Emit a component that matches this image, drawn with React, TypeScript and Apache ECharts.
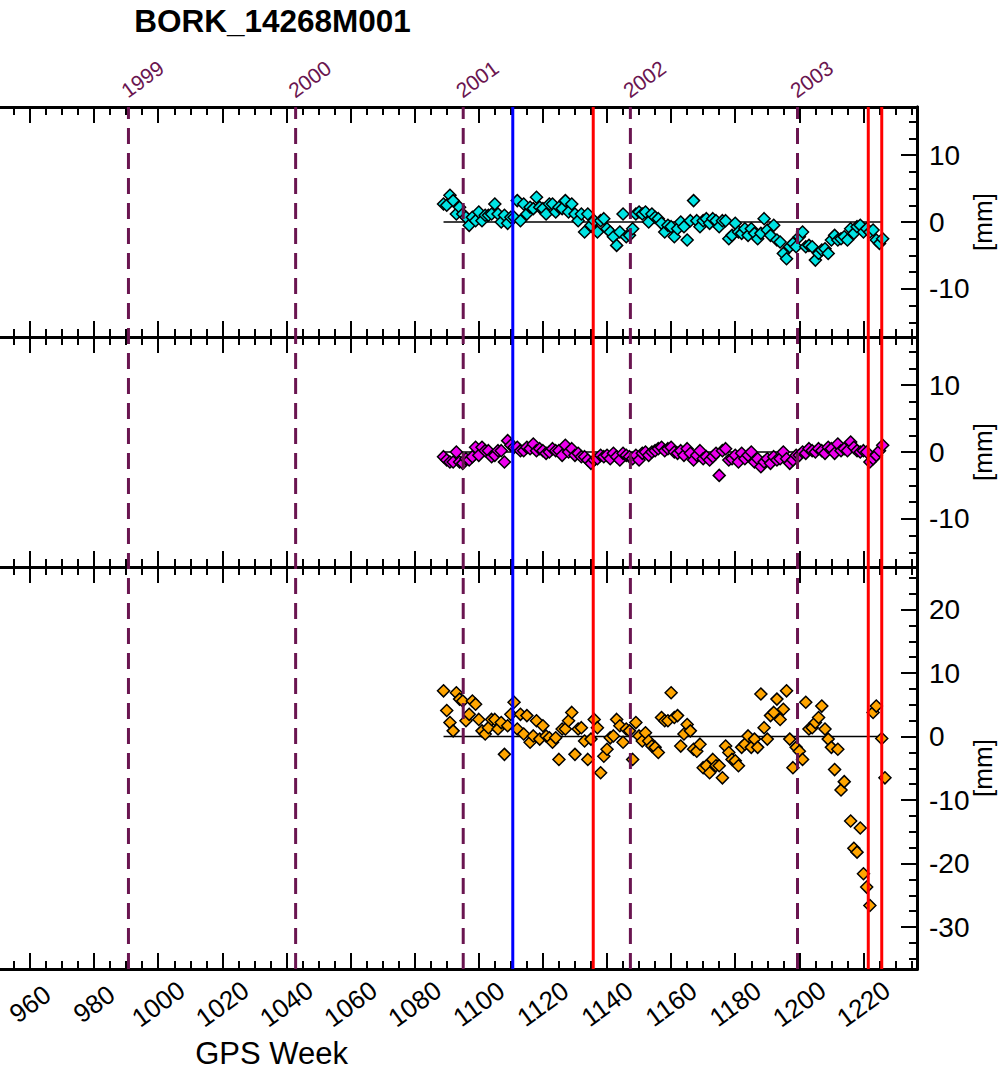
import React, { useEffect, useRef } from 'react';
import * as echarts from 'echarts';

// ---------------- data ----------------
const TITLE = 'BORK_14268M001';
const X_NAME = 'GPS Week';
const Y_UNIT = '[mm]';

const FIRST_WEEK = 1089;

// panel 1 (cyan), one value per week starting at FIRST_WEEK
const NORTH = [
  2.7, 2.5, 4.0, 3.2, 1.2, 2.2, 1.2, 0.7, -0.5, 0.7,
  0.2, 1.5, 0.2, 1.0, 1.0, 1.2, 2.7, 1.2, 0.0, 1.0,
  -0.2, 0.7, 0.7, 3.2, 0.2, 2.7, 1.2, 2.2, 2.0, 3.7,
  2.2, 2.0, 1.2, 2.7, 2.7, 1.5, 2.2, 2.0, 3.2, 1.5,
  2.7, 1.2, 0.2, 1.2, -1.5, 1.2, -0.5, 0.2, -1.5, 0.2,
  0.5, -1.0, -1.5, -2.2, -3.5, -1.5, 1.2, -2.2, -2.0, -1.0,
  1.2, 1.5, 1.2, 1.5, 0.0, 1.2, 0.7, 0.5, -0.2, -1.5,
  -0.5, -0.7, -2.2, -1.0,
  0.0, -0.7, -2.7, 0.2, 3.2, 0.2, -0.7, 0.2, 0.5, -0.2,
  0.5, 0.2, -0.7, 0.2, 0.2, -2.5, -2.0, -0.2, -1.5, -1.7,
  -1.0, -2.0, -1.0, -1.7, -2.5, -1.7, 0.5, -1.2, -2.0, -0.5,
  -2.7, -3.0, -4.7, -5.5, -3.7, -3.2, -3.7, -2.2, -1.5, -3.7,
  -3.5, -3.7, -5.7, -4.7, -4.2, -4.0, -4.7, -2.7, -2.0, -2.7,
  -2.5, -2.2, -2.7, -1.0, -1.7, -0.7, -0.5, -1.5, -1.0, -1.5,
  -1.2, -2.7, -3.2, -2.5,
];

// panel 2 (magenta)
const EAST = [
  -0.7, -1.2, -1.5, -1.5, 0.0, -1.5, -1.7, -1.0, -1.2, -0.7,
  0.7, -0.5, 0.7, 0.2, 0.2, -0.7, -0.5, 0.2, 0.2, -1.5,
  1.7, 1.0, 0.7, 0.7, 0.2, 0.2, 0.7, 0.5, 1.2, 0.2,
  0.5, 0.2, -0.2, 0.0, 0.5, 0.2, 0.2, -0.5, 1.0, 0.0,
  0.5, -0.5, -0.2, -0.7, -0.7, -1.2, -1.7, -1.2, -1.0, -0.5,
  -0.7, -0.5, -1.0, -0.2, -0.7, -1.2, -0.2, -0.5, -0.7, -1.0,
  -0.5, -1.2, -0.2, 0.0, -0.5, 0.0, 0.2, 0.5, 0.7, 0.2,
  0.5, 0.7, 0.0, -0.2,
  0.2, -0.5, 0.5, -0.2, -1.2, -0.5, 0.2, -1.0, -0.7, -1.2,
  -0.7, -0.2, -3.5, 0.2, 0.5, -1.2, -1.0, -0.5, -1.5, -0.2,
  -1.0, -0.5, 0.0, -1.5, -1.0, -2.2, -1.5, -1.0, -1.7, -0.7,
  -1.2, -1.0, 0.0, -1.0, -1.7, -1.2, -0.5, -0.5, 0.0, -0.2,
  0.5, 0.2, 0.0, 0.5, 0.2, -0.2, 0.7, 0.5, -0.2, 1.2,
  0.2, 0.5, 0.2, 1.5, 0.7, 0.2, 0.0, 0.2, 0.0, -1.5,
  -1.0, -0.5, 0.2, 1.0,
];

// panel 3 (orange) [week, value]
const UP = [
  [1089, 7.2], [1090, 4.1], [1091, 2.2], [1092, 0.9], [1093, 6.9], [1094, 5.9], [1095, 5.6], [1096, 2.5], [1097, 3.5], [1098, 5.6],
  [1099, 5.1], [1100, 2.7], [1101, 0.9], [1102, 0.4], [1103, 1.4], [1104, 2.7], [1105, 2.7], [1106, 1.2], [1107, 2.2], [1108, -2.8],
  [1109, 1.7], [1110, 3.5], [1111, 5.4], [1112, 1.2], [1113, 3.5], [1114, 0.4], [1115, 3.3], [1116, -0.9], [1117, 0.1], [1118, 2.5],
  [1119, -0.4], [1120, 1.7], [1121, 0.1], [1122, -0.2], [1123, -0.9], [1124, -0.2], [1125, -3.6], [1126, 1.2], [1127, 1.2], [1128, 2.5],
  [1129, 3.8], [1130, -2.8], [1131, 1.2], [1132, 1.4], [1133, -0.7], [1134, -3.6], [1135, -0.4], [1136, 2.7], [1137, 1.4], [1138, -5.7],
  [1139, -3.1], [1140, -2.0], [1141, -0.2], [1142, 0.1], [1143, 2.7], [1144, 1.7], [1145, -0.9], [1146, 1.2], [1147, 0.9], [1148, -3.6],
  [1149, 2.2], [1150, 0.1], [1151, -0.7], [1152, 0.6], [1153, -0.7], [1154, -1.5], [1155, -1.7], [1156, -2.5], [1157, 3.0], [1158, 2.5],
  [1159, 2.5], [1160, 6.9], [1161, 3.0], [1162, 3.3], [1163, -1.5], [1164, 0.4], [1165, 1.9], [1166, 0.9], [1167, -2.0], [1168, -2.3],
  [1169, -1.2], [1170, -4.9], [1171, -4.6], [1172, -5.7], [1173, -3.6], [1174, -4.6], [1175, -4.6], [1176, -6.5], [1177, -1.5], [1178, -2.5],
  [1179, -3.6], [1180, -3.8], [1181, -4.6], [1182, -1.7], [1183, -1.2], [1184, 0.1], [1185, -1.7], [1186, -0.4], [1187, -1.7], [1188, 6.7],
  [1189, 1.4], [1190, -0.4], [1191, 3.3], [1192, 3.8], [1193, 5.9], [1194, 2.7], [1195, 4.3], [1196, 7.2], [1197, -0.4], [1198, -4.9],
  [1199, -1.7], [1200, -2.3], [1201, -3.6], [1202, 5.4], [1203, 1.2], [1204, 1.4], [1205, 2.2], [1206, 3.0], [1207, 4.8], [1208, 1.2],
  [1209, -0.4], [1210, -1.7], [1211, -5.2], [1212, -2.0], [1213, -8.4], [1214, -7.1], [1216, -13.3], [1217, -17.6], [1218, -18.2], [1219, -14.4],
  [1220, -21.6], [1221, -23.7], [1222, -26.6], [1223, 3.8], [1224, 4.8], [1225.7, -0.3], [1226.7, -6.5],
];

const YEAR_LABELS = ['1999', '2000', '2001', '2002', '2003'];
const YEAR_WEEKS = [990.71, 1042.86, 1095.14, 1147.29, 1199.43];
const BLUE_WEEKS = [1110.6];
const RED_WEEKS = [1135.7, 1221.5, 1225.7];

const X_TICK_LABELS = [960, 980, 1000, 1020, 1040, 1060, 1080, 1100, 1120, 1140, 1160, 1180, 1200, 1220];
const X_MAJOR_TICKS = [940, ...X_TICK_LABELS];
const Y_TICKS_NE = [-10, 0, 10];
const Y_TICKS_UP = [-30, -20, -10, 0, 10, 20];

// ---------------- layout / style ----------------
const OFF = 100;
const W = 998 + OFF;
const H = 1071;
const X_MIN = 940;
const X_MAX = 1236.7;
const GRID_LEFT = OFF - 34.1;
const GRID_RIGHT = W - (917 + OFF);
const FONT = '"Liberation Sans", Arial, Helvetica, sans-serif';
const YEAR_COLOR = '#6a1550';

function stepList(a: number, b: number, s: number) {
  const out: number[] = [];
  for (let v = a; v <= b + 1e-9; v += s) out.push(Math.round(v * 100) / 100);
  return out;
}
const X_MINOR_TICKS = stepList(X_MIN, 1235, 5);

const NE_POINTS = (vals: number[]) => vals.map((v, i) => [FIRST_WEEK + i, v]);

const PANELS = [
  { top: 107, height: 230, min: -17.2, max: 17.2, major: Y_TICKS_NE, minor: stepList(-15, 15, 2.5), color: '#00e3e3', data: NE_POINTS(NORTH) },
  { top: 337, height: 230, min: -17.2, max: 17.2, major: Y_TICKS_NE, minor: stepList(-15, 15, 2.5), color: '#ee00ee', data: NE_POINTS(EAST) },
  { top: 567, height: 402, min: -36.6, max: 26.7, major: Y_TICKS_UP, minor: stepList(-35, 25, 2.5), color: '#ffa500', data: UP },
];

function makeX(gi: number, pos: string, major: boolean, labels: boolean) {
  return {
    gridIndex: gi,
    type: 'value',
    position: pos,
    min: X_MIN,
    max: X_MAX,
    axisLine: { show: true, onZero: false, lineStyle: { color: '#000', width: 3 } },
    axisTick: {
      show: true,
      inside: true,
      length: major ? 16 : 8,
      customValues: major ? X_MAJOR_TICKS : X_MINOR_TICKS,
      lineStyle: { color: '#000', width: 2 },
    },
    axisLabel: labels
      ? {
          show: true,
          customValues: X_TICK_LABELS,
          formatter: (v: number) => String(v),
          rotate: 36,
          align: 'center',
          verticalAlign: 'middle',
          margin: 35,
          fontSize: 26,
          color: '#000',
          fontFamily: FONT,
        }
      : { show: false },
    splitLine: { show: false },
    minorTick: { show: false },
  };
}

function buildOption() {
  const grid: any[] = PANELS.map((p) => ({ left: GRID_LEFT, right: GRID_RIGHT, top: p.top, height: p.height }));
  grid.push({ left: GRID_LEFT, right: GRID_RIGHT, top: 107, height: 862 });

  const xAxis: any[] = [];
  PANELS.forEach((_, i) => {
    xAxis.push(makeX(i, 'bottom', true, i === 2));
    xAxis.push(makeX(i, 'bottom', false, false));
    xAxis.push(makeX(i, 'top', true, false));
    xAxis.push(makeX(i, 'top', false, false));
  });
  xAxis.push({ gridIndex: 3, type: 'value', min: X_MIN, max: X_MAX, show: false });

  const yAxis: any[] = [];
  PANELS.forEach((p, i) => {
    [true, false].forEach((major) => {
      yAxis.push({
        gridIndex: i,
        type: 'value',
        position: 'right',
        min: p.min,
        max: p.max,
        axisLine: { show: true, onZero: false, lineStyle: { color: '#000', width: 3 } },
        axisTick: {
          show: true,
          inside: true,
          length: major ? 16 : 8,
          customValues: major ? p.major : p.minor,
          lineStyle: { color: '#000', width: 2 },
        },
        axisLabel: major
          ? { show: true, customValues: p.major, fontSize: 28, margin: 12, color: '#000', fontFamily: FONT }
          : { show: false },
        splitLine: { show: false },
      });
    });
  });
  yAxis.push({ gridIndex: 3, type: 'value', min: 0, max: 1, show: false });

  const series: any[] = [];
  PANELS.forEach((p, i) => {
    const first = p.data[0][0];
    const last = p.data[p.data.length - 1][0];
    series.push({
      type: 'line',
      xAxisIndex: i * 4,
      yAxisIndex: i * 2,
      data: [[first, 0], [last, 0]],
      symbol: 'none',
      lineStyle: { color: '#000', width: 1.5 },
      z: 1,
      silent: true,
    });
    series.push({
      type: 'scatter',
      xAxisIndex: i * 4,
      yAxisIndex: i * 2,
      data: p.data,
      symbol: 'diamond',
      symbolSize: 12,
      itemStyle: { color: p.color, borderColor: '#000', borderWidth: 1.5, opacity: 1 },
      z: 2,
    });
  });

  const vLine = (w: number, color: string, dashed: boolean) => ({
    type: 'line',
    xAxisIndex: 12,
    yAxisIndex: 6,
    data: [[w, 0], [w, 1]],
    symbol: 'none',
    lineStyle: { color, width: 3, type: dashed ? [16, 9] : 'solid' },
    z: 3,
    silent: true,
  });
  YEAR_WEEKS.forEach((w) => series.push(vLine(w, YEAR_COLOR, true)));
  BLUE_WEEKS.forEach((w) => series.push(vLine(w, '#0000ff', false)));
  RED_WEEKS.forEach((w) => series.push(vLine(w, '#ff0000', false)));

  return {
    animation: false,
    backgroundColor: '#fff',
    grid,
    xAxis,
    yAxis,
    series,
  };
}

export default function App() {
  const ref = useRef<HTMLDivElement>(null);
  useEffect(() => {
    if (!ref.current) return;
    const chart = echarts.init(ref.current, undefined, { renderer: 'svg', width: W, height: H });
    chart.setOption(buildOption() as any);

    const graphic: any[] = [
      {
        type: 'text',
        x: 272.5 + OFF,
        y: 21,
        style: { text: TITLE, fontSize: 31.5, fontWeight: 'bold', fontFamily: FONT, fill: '#000', align: 'center', verticalAlign: 'middle' },
      },
      {
        type: 'text',
        x: 271.5 + OFF,
        y: 1053,
        style: { text: X_NAME, fontSize: 31, fontFamily: FONT, fill: '#000', align: 'center', verticalAlign: 'middle' },
      },
    ];
    PANELS.forEach((p) => {
      graphic.push({
        type: 'text',
        x: 983 + OFF,
        y: p.top + p.height / 2,
        rotation: Math.PI / 2,
        style: { text: Y_UNIT, fontSize: 26, fontFamily: FONT, fill: '#000', align: 'center', verticalAlign: 'middle' },
      });
    });
    YEAR_WEEKS.forEach((w, i) => {
      const px = chart.convertToPixel({ xAxisIndex: 12 } as any, w) as number;
      graphic.push({
        type: 'text',
        x: px + 14,
        y: 79,
        rotation: (36 * Math.PI) / 180,
        style: { text: YEAR_LABELS[i], fontSize: 21, fontFamily: FONT, fill: YEAR_COLOR, align: 'center', verticalAlign: 'middle' },
      });
    });
    chart.setOption({ graphic });

    return () => chart.dispose();
  }, []);
  return (
    <div
      ref={ref}
      style={{ position: 'absolute', left: -OFF, top: 0, width: W, height: H, background: '#fff' }}
    />
  );
}
